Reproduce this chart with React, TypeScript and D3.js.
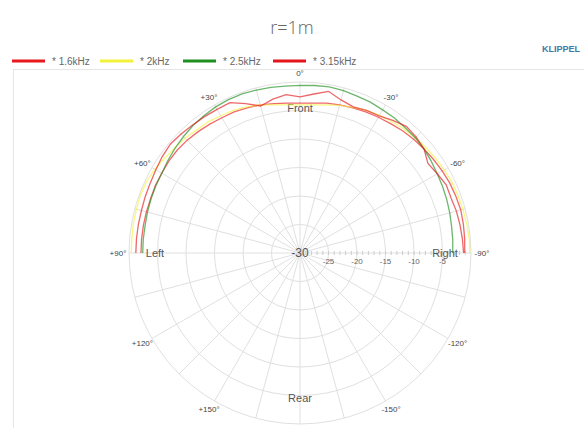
import React, { useEffect, useRef } from 'react';
import * as d3 from 'd3';

// angles in degrees, + is to the left (Left side), - to the right
const angles = [
  -90, -85, -80, -75, -70, -65, -60, -55, -50, -45, -40, -35, -30, -25, -20, -15, -10, -5, 0,
  5, 10, 15, 20, 25, 30, 35, 40, 45, 50, 55, 60, 65, 70, 75, 80, 85, 90,
];

const f1600 = [
  -1.1, -1.0, -0.9, -0.8, -0.9, -1.0, -1.2, -1.4, -1.6, -1.8, -2.0, -2.3, -2.5, -2.7, -2.9, -3.1, -3.3, -3.6, -3.7,
  -3.6, -3.4, -3.1, -2.9, -2.7, -2.6, -2.4, -2.2, -2.0, -1.9, -1.9, -2.0, -2.0, -2.1, -2.1, -2.1, -2.1, -2.1,
];
const f2000 = [
  -0.2, -0.2, -0.3, -0.4, -0.5, -0.6, -0.8, -1.0, -1.2, -1.4, -1.6, -1.9, -2.1, -2.4, -2.8, -3.2, -3.6, -3.9, -4.0,
  -3.9, -3.6, -3.1, -2.7, -2.4, -2.2, -1.9, -1.8, -1.5, -1.3, -1.0, -0.6, -0.3, -0.2, -0.3, -0.3, -0.4, -0.4,
];
const f2500 = [
  -3.2, -3.1, -3.0, -2.8, -2.6, -2.4, -2.2, -1.9, -1.6, -1.4, -1.3, -1.1, -1.0, -0.8, -0.7, -0.5, -0.4, -0.5, -0.6,
  -0.6, -0.5, -0.4, -0.3, -0.3, -0.4, -0.6, -0.8, -1.1, -1.4, -1.7, -2.0, -2.1, -2.2, -2.3, -2.4, -2.4, -2.4,
];
const f3150 = [
  -1.3, -1.4, -1.5, -1.6, -1.8, -1.7, -2.2, -2.6, -1.6, -1.2, -1.0, -1.6, -2.2, -2.4, -2.7, -2.2, -1.2, -2.0, -2.6,
  -2.1, -2.6, -3.3, -2.1, -0.9, -0.9, -0.8, -0.7, -0.5, -0.3, -0.5, -0.8, -1.0, -1.1, -1.2, -1.2, -1.2, -1.2,
];

const seriesNames = ['* 1.6kHz', '* 2kHz', '* 2.5kHz', '* 3.15kHz'];
const seriesColors = ['#e8191c', '#f2f23c', '#1f8f1f', '#e3141a'];
const seriesValues = [f1600, f2000, f2500, f3150];

const ringTicks = [-25, -20, -15, -10, -5, 0];
const axisLabels = [-25, -20, -15, -10, -5];
const angleLabels = ['0°', '+30°', '+60°', '+90°', '+120°', '+150°', '+/-180°', '-150°', '-120°', '-90°', '-60°', '-30°'];
const angleLabelDeg = [0, 30, 60, 90, 120, 150, 180, -150, -120, -90, -60, -30];

const W = 584;
const H = 428;
const cx = 300;
const cy = 253;
const R = 171;

const App: React.FC = () => {
  const svgRef = useRef<SVGSVGElement | null>(null);

  useEffect(() => {
    if (!svgRef.current) return;
    const svg = d3.select(svgRef.current);
    svg.selectAll('*').remove();

    const font = 'Arial, "Liberation Sans", sans-serif';

    // title
    svg.append('text')
      .attr('x', 292).attr('y', 34)
      .attr('text-anchor', 'middle')
      .attr('font-family', '"Open Sans", sans-serif')
      .attr('font-weight', 300)
      .attr('font-size', 18)
      .attr('fill', '#666')
      .text('r=1m');

    svg.append('text')
      .attr('x', 580).attr('y', 52)
      .attr('text-anchor', 'end')
      .attr('font-family', font)
      .attr('font-weight', 'bold')
      .attr('font-size', 9)
      .attr('fill', '#3f79a8')
      .text('KLIPPEL');

    // legend
    const legendX = [12, 100, 183, 273];
    const leg = svg.append('g');
    seriesNames.forEach((name, i) => {
      leg.append('line')
        .attr('x1', legendX[i]).attr('x2', legendX[i] + 33)
        .attr('y1', 61).attr('y2', 61)
        .attr('stroke', seriesColors[i]).attr('stroke-width', 3);
      leg.append('text')
        .attr('x', legendX[i] + 40).attr('y', 64.5)
        .attr('font-family', font).attr('font-size', 10)
        .attr('fill', '#666')
        .text(name);
    });

    // frame
    svg.append('rect')
      .attr('x', 13.5).attr('y', 69.5)
      .attr('width', W).attr('height', H)
      .attr('fill', 'none').attr('stroke', '#e6e6e6');

    const r = d3.scaleLinear().domain([-30, 0]).range([0, R]);
    const g = svg.append('g').attr('transform', `translate(${cx},${cy})`);

    // rings
    g.selectAll('circle.ring')
      .data(ringTicks)
      .enter()
      .append('circle')
      .attr('r', (d) => r(d))
      .attr('fill', 'none')
      .attr('stroke', '#e0e0e0')
      .attr('stroke-width', 1);

    // spokes every 15 deg
    const spokes = d3.range(0, 360, 15);
    g.selectAll('line.spoke')
      .data(spokes)
      .enter()
      .append('line')
      .attr('x1', 0).attr('y1', 0)
      .attr('x2', (d) => R * Math.sin((d * Math.PI) / 180))
      .attr('y2', (d) => -R * Math.cos((d * Math.PI) / 180))
      .attr('stroke', '#e0e0e0')
      .attr('stroke-width', 1);

    // axis ticks along right radius
    g.selectAll('line.tick')
      .data(d3.range(-29, 0, 1))
      .enter()
      .append('line')
      .attr('x1', (d) => r(d)).attr('x2', (d) => r(d))
      .attr('y1', -2).attr('y2', 2)
      .attr('stroke', '#ccc');

    g.selectAll('text.axl')
      .data(axisLabels)
      .enter()
      .append('text')
      .attr('x', (d) => r(d))
      .attr('y', 11)
      .attr('text-anchor', 'middle')
      .attr('font-family', font).attr('font-size', 8)
      .attr('fill', '#666')
      .text((d) => String(d));

    g.append('text')
      .attr('x', 0).attr('y', 4)
      .attr('text-anchor', 'middle')
      .attr('font-family', font).attr('font-size', 12)
      .attr('fill', '#555')
      .text('-30');

    // angle labels
    g.selectAll('text.ang')
      .data(angleLabels)
      .enter()
      .append('text')
      .attr('x', (d, i) => -182 * Math.sin((angleLabelDeg[i] * Math.PI) / 180))
      .attr('y', (d, i) => -180 * Math.cos((angleLabelDeg[i] * Math.PI) / 180) + 3)
      .attr('text-anchor', 'middle')
      .attr('font-family', font).attr('font-size', 8)
      .attr('fill', '#444')
      .text((d) => d);

    // direction labels
    const dirs = [
      { t: 'Front', x: 0, y: -141 },
      { t: 'Left', x: -145, y: 4 },
      { t: 'Right', x: 145, y: 4 },
      { t: 'Rear', x: 0, y: 149 },
    ];
    dirs.forEach((d) => {
      g.append('text')
        .attr('x', d.x).attr('y', d.y)
        .attr('text-anchor', 'middle')
        .attr('font-family', font).attr('font-size', 11)
        .attr('fill', '#555')
        .text(d.t);
    });

    // curves
    const line = d3.lineRadial<number>()
      .angle((d, i) => (-angles[i] * Math.PI) / 180)
      .radius((d) => r(d));

    seriesValues.forEach((vals, i) => {
      g.append('path')
        .attr('d', line(vals) as string)
        .attr('fill', 'none')
        .attr('stroke', seriesColors[i])
        .attr('stroke-opacity', 0.65)
        .attr('stroke-width', 1.3);
    });
  }, []);

  return (
    <svg
      ref={svgRef}
      width={W}
      height={H}
      style={{ position: 'absolute', left: 0, top: 0, background: '#fff' }}
    />
  );
};

export default App;
